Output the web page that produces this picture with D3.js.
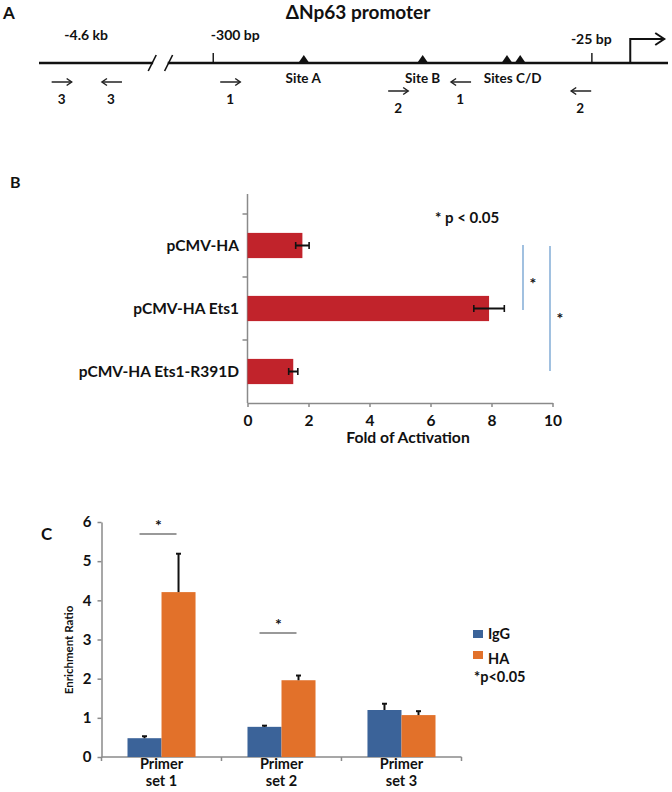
<!DOCTYPE html>
<html>
<head>
<meta charset="utf-8">
<script src="https://cdn.jsdelivr.net/npm/d3@7"></script>
<style>
  html, body { margin: 0; padding: 0; background: #fff; }
  svg { display: block; font-family: Lato, "Open Sans", sans-serif; }
  text { font-weight: bold; fill: #111; }
</style>
</head>
<body>
<svg id="chart" width="672" height="792"></svg>
<script>
// ---------------- Panel A data (promoter diagram, arbitrary track units 0-100) ----------------
const promoterTitle = "\u0394Np63 promoter";
const trackBreak = [18.0, 20.6];
const positionTicks = [
  { label: "-300 bp", pos: 27.7, labelPos: 31.2 },
  { label: "-25 bp", pos: 87.9, labelPos: 87.8 }
];
const positionLabelsNoTick = [{ label: "-4.6 kb", pos: 7.5 }];
const sites = [
  { name: "A", pos: 42.1 },
  { name: "B", pos: 61.0 },
  { name: "C", pos: 74.4 },
  { name: "D", pos: 76.5 }
];
const siteLabels = [
  { label: "Site A", pos: 42.0 },
  { label: "Site B", pos: 61.0 },
  { label: "Sites C/D", pos: 75.3 }
];
const tssPos = 94.0;
const tssEnd = 99.4;
// primer arrows: set, direction, position, row
const primers = [
  { set: "3", dir: 1, pos: 3.6, row: 0 },
  { set: "3", dir: -1, pos: 11.6, row: 0 },
  { set: "1", dir: 1, pos: 30.4, row: 0 },
  { set: "1", dir: -1, pos: 67.1, row: 0 },
  { set: "2", dir: 1, pos: 57.1, row: 1 },
  { set: "2", dir: -1, pos: 86.2, row: 1 }
];

// ---------------- Panel B data ----------------
const bCategories = ["pCMV-HA", "pCMV-HA Ets1", "pCMV-HA Ets1-R391D"];
const bValues = [1.8, 7.92, 1.5];
const bErrors = [0.22, 0.5, 0.15];
const bTicks = [0, 2, 4, 6, 8, 10];
const bAxisTitle = "Fold of Activation";
const bNote = "* p < 0.05";

// ---------------- Panel C data ----------------
const cCategories = ["Primer set 1", "Primer set 2", "Primer set 3"];
const cSeries = ["IgG", "HA"];
const cIgG = [0.48, 0.77, 1.2];
const cIgGErr = [0.05, 0.03, 0.16];
const cHA = [4.21, 1.96, 1.07];
const cHAErr = [0.98, 0.12, 0.1];
const cTicks = [0, 1, 2, 3, 4, 5, 6];
const cAxisTitle = "Enrichment Ratio";
const cNote = "*p<0.05";

const svg = d3.select("#chart");

// ======================= PANEL A =======================
(function () {
  const g = svg.append("g");
  const x = d3.scaleLinear().domain([0, 100]).range([39, 668]);
  const lineY = 63;
  g.append("text").attr("x", 3).attr("y", 19).attr("font-size", 17).text("A");
  g.append("text").attr("x", 358).attr("y", 19).attr("text-anchor", "middle")
    .attr("font-size", 19).text(promoterTitle);

  const seg = (x1, x2) => g.append("line").attr("x1", x(x1)).attr("x2", x(x2))
    .attr("y1", lineY).attr("y2", lineY).attr("stroke", "#111").attr("stroke-width", 2.4);
  seg(0, trackBreak[0] + 0.2);
  seg(trackBreak[1] - 0.2, 100);
  g.append("rect").attr("x", x(trackBreak[0]) + 1).attr("y", lineY - 2)
    .attr("width", x(trackBreak[1]) - x(trackBreak[0]) - 2).attr("height", 4).attr("fill", "#fff");
  trackBreak.forEach(p => {
    g.append("line").attr("x1", x(p) - 4).attr("y1", lineY + 8)
      .attr("x2", x(p) + 4).attr("y2", lineY - 8)
      .attr("stroke", "#111").attr("stroke-width", 1.6);
  });

  positionTicks.forEach(t => {
    g.append("line").attr("x1", x(t.pos)).attr("x2", x(t.pos))
      .attr("y1", lineY - 10).attr("y2", lineY).attr("stroke", "#111").attr("stroke-width", 1.4);
    g.append("text").attr("x", x(t.labelPos)).attr("y", t.label === "-25 bp" ? 44 : 40)
      .attr("text-anchor", "middle").attr("font-size", 14).text(t.label);
  });
  positionLabelsNoTick.forEach(t => {
    g.append("text").attr("x", x(t.pos)).attr("y", 40)
      .attr("text-anchor", "middle").attr("font-size", 14).text(t.label);
  });

  sites.forEach(s => {
    const cx = x(s.pos);
    g.append("path").attr("d", `M${cx - 5.5},${lineY} L${cx},${lineY - 8} L${cx + 5.5},${lineY} Z`)
      .attr("fill", "#111");
  });
  siteLabels.forEach(s => {
    g.append("text").attr("x", x(s.pos)).attr("y", 83).attr("text-anchor", "middle")
      .attr("font-size", 13.5).text(s.label);
  });

  g.append("path")
    .attr("d", `M${x(tssPos)},${lineY} V${lineY - 24} H${x(tssEnd)}`)
    .attr("fill", "none").attr("stroke", "#111").attr("stroke-width", 2);
  g.append("path")
    .attr("d", `M${x(tssEnd) - 9},${lineY - 30} L${x(tssEnd)},${lineY - 24} L${x(tssEnd) - 9},${lineY - 18}`)
    .attr("fill", "none").attr("stroke", "#111").attr("stroke-width", 2);

  const rowY = [82, 91];
  const numY = [104, 113];
  primers.forEach(p => {
    const cx = x(p.pos);
    const y = rowY[p.row];
    const x1 = cx - 10 * p.dir, x2 = cx + 10 * p.dir;
    g.append("line").attr("x1", x1).attr("x2", x2).attr("y1", y).attr("y2", y)
      .attr("stroke", "#222").attr("stroke-width", 1.5);
    g.append("path")
      .attr("d", `M${x2 - 5 * p.dir},${y - 3.5} L${x2},${y} L${x2 - 5 * p.dir},${y + 3.5}`)
      .attr("fill", "none").attr("stroke", "#222").attr("stroke-width", 1.5);
    g.append("text").attr("x", cx + (p.dir > 0 ? 0 : -1)).attr("y", numY[p.row])
      .attr("text-anchor", "middle").attr("font-size", 13.5).text(p.set);
  });
})();

// ======================= PANEL B =======================
(function () {
  const g = svg.append("g");
  const red = "#c1232b";
  g.append("text").attr("x", 10).attr("y", 188).attr("font-size", 16).text("B");

  const x = d3.scaleLinear().domain([0, 10]).range([247.5, 552.5]);
  const y = d3.scaleBand().domain(bCategories).range([214, 403])
    .paddingInner(0.6).paddingOuter(0.3);

  g.append("line").attr("x1", x(0)).attr("x2", x(0)).attr("y1", 194).attr("y2", 403)
    .attr("stroke", "#8a8a8a").attr("stroke-width", 1.5);
  const bounds = [214].concat(bCategories.map(c => y(c) + y.bandwidth() + y.step() * 0.3));
  bounds.slice(0, 3).forEach(b => {
    g.append("line").attr("x1", x(0) - 5).attr("x2", x(0)).attr("y1", b).attr("y2", b)
      .attr("stroke", "#8a8a8a").attr("stroke-width", 1.5);
  });

  const xAxis = g.append("g").attr("transform", "translate(0,403)")
    .call(d3.axisBottom(x).tickValues(bTicks).tickSize(4).tickSizeOuter(0).tickFormat(d3.format("d")));
  xAxis.select(".domain").attr("stroke", "#8a8a8a").attr("stroke-width", 1.5);
  xAxis.selectAll(".tick line").attr("stroke", "#8a8a8a").attr("stroke-width", 1.5);
  xAxis.selectAll(".tick text").attr("font-size", 15.5).attr("font-weight", "bold")
    .attr("fill", "#111").attr("y", 12).attr("dy", "0.71em").attr("font-family", "Lato, sans-serif");

  g.append("text").attr("x", 408).attr("y", 443).attr("text-anchor", "middle")
    .attr("font-size", 15.7).text(bAxisTitle);

  bCategories.forEach(c => {
    g.append("text").attr("x", 239).attr("y", y(c) + y.bandwidth() / 2 + 5.5)
      .attr("text-anchor", "end").attr("font-size", 15.5).text(c);
  });

  g.selectAll("rect.bar").data(bCategories).join("rect").attr("class", "bar")
    .attr("x", x(0)).attr("y", c => y(c))
    .attr("width", (c, i) => x(bValues[i]) - x(0)).attr("height", y.bandwidth())
    .attr("fill", red);

  bCategories.forEach((c, i) => {
    const cy = y(c) + y.bandwidth() / 2;
    const lo = x(bValues[i] - bErrors[i]), hi = x(bValues[i] + bErrors[i]);
    g.append("line").attr("x1", lo).attr("x2", hi).attr("y1", cy).attr("y2", cy)
      .attr("stroke", "#111").attr("stroke-width", 2);
    [lo, hi].forEach(v => g.append("line").attr("x1", v).attr("x2", v)
      .attr("y1", cy - 3.5).attr("y2", cy + 3.5).attr("stroke", "#111").attr("stroke-width", 1.6));
  });

  g.append("text").attr("x", 435).attr("y", 223).attr("font-size", 15).text(bNote);

  const blue = "#6f9fd0";
  g.append("line").attr("x1", 523).attr("x2", 523).attr("y1", 245).attr("y2", 310)
    .attr("stroke", blue).attr("stroke-width", 1.3);
  g.append("line").attr("x1", 550).attr("x2", 550).attr("y1", 246).attr("y2", 371)
    .attr("stroke", blue).attr("stroke-width", 1.3);
  g.append("text").attr("x", 533).attr("y", 289).attr("text-anchor", "middle")
    .attr("font-size", 16).text("*");
  g.append("text").attr("x", 560).attr("y", 324).attr("text-anchor", "middle")
    .attr("font-size", 16).text("*");
})();

// ======================= PANEL C =======================
(function () {
  const g = svg.append("g");
  const blue = "#3b6399", orange = "#e2712a";
  g.append("text").attr("x", 41).attr("y", 540).attr("font-size", 17).text("C");

  const y = d3.scaleLinear().domain([0, 6]).range([757, 522]);
  const x = d3.scaleBand().domain(cCategories).range([101.5, 461.5])
    .paddingInner(0.433).paddingOuter(0.2167);
  const xs = d3.scaleBand().domain(cSeries).range([0, x.bandwidth()]);
  const color = d3.scaleOrdinal().domain(cSeries).range([blue, orange]);
  const vals = { IgG: cIgG, HA: cHA };
  const errs = { IgG: cIgGErr, HA: cHAErr };

  const yAxis = g.append("g").attr("transform", "translate(101.5,0)")
    .call(d3.axisLeft(y).tickValues(cTicks).tickSize(4).tickSizeOuter(0).tickFormat(d3.format("d")));
  yAxis.select(".domain").attr("stroke", "#8a8a8a").attr("stroke-width", 1.5);
  yAxis.selectAll(".tick line").attr("stroke", "#8a8a8a").attr("stroke-width", 1.5);
  yAxis.selectAll(".tick text").attr("font-size", 15).attr("font-weight", "bold")
    .attr("fill", "#111").attr("x", -10).attr("font-family", "Lato, sans-serif");

  g.append("text").attr("transform", "translate(72.5,650) rotate(-90)")
    .attr("text-anchor", "middle").attr("font-size", 11.5).attr("font-weight", "normal")
    .text(cAxisTitle);

  g.append("line").attr("x1", 101.5).attr("x2", 461.5).attr("y1", 757).attr("y2", 757)
    .attr("stroke", "#8a8a8a").attr("stroke-width", 1.5);
  const bnd = cCategories.map(c => x(c) - x.step() * 0.2167).concat([461.5]);
  bnd.forEach(b => g.append("line").attr("x1", b).attr("x2", b).attr("y1", 757).attr("y2", 761)
    .attr("stroke", "#8a8a8a").attr("stroke-width", 1.5));

  cCategories.forEach(c => {
    const cx = x(c) + x.bandwidth() / 2;
    const parts = c.split(" ");
    g.append("text").attr("x", cx).attr("y", 769).attr("text-anchor", "middle")
      .attr("font-size", 14.5).text(parts[0]);
    g.append("text").attr("x", cx).attr("y", 786).attr("text-anchor", "middle")
      .attr("font-size", 14.5).text(parts.slice(1).join(" "));
  });

  cSeries.forEach(s => {
    cCategories.forEach((c, i) => {
      const bx = x(c) + xs(s);
      g.append("rect").attr("x", bx).attr("y", y(vals[s][i]))
        .attr("width", xs.bandwidth()).attr("height", y(0) - y(vals[s][i]))
        .attr("fill", color(s));
      const cx = bx + xs.bandwidth() / 2;
      const top = y(vals[s][i] + errs[s][i]);
      g.append("line").attr("x1", cx).attr("x2", cx).attr("y1", y(vals[s][i])).attr("y2", top)
        .attr("stroke", "#111").attr("stroke-width", 2);
      g.append("line").attr("x1", cx - 2.5).attr("x2", cx + 2.5).attr("y1", top).attr("y2", top)
        .attr("stroke", "#111").attr("stroke-width", 2);
    });
  });

  const sig = [cCategories[0], cCategories[1]];
  sig.forEach(c => {
    const cx = x(c) + x.bandwidth() / 2;
    const i = cCategories.indexOf(c);
    const ly = i === 0 ? 534 : 633;
    g.append("line").attr("x1", cx - 22).attr("x2", cx + 15).attr("y1", ly).attr("y2", ly)
      .attr("stroke", "#777").attr("stroke-width", 1.3);
    g.append("text").attr("x", cx - 3).attr("y", ly - 3).attr("text-anchor", "middle")
      .attr("font-size", 16).text("*");
  });

  const leg = g.append("g");
  cSeries.forEach((s, i) => {
    leg.append("rect").attr("x", 473).attr("y", i === 0 ? 630 : 651)
      .attr("width", 10).attr("height", 8).attr("fill", color(s));
    leg.append("text").attr("x", 488).attr("y", i === 0 ? 639 : 664)
      .attr("font-size", 14.5).text(s);
  });
  leg.append("text").attr("x", 474).attr("y", 682).attr("font-size", 14.5).text(cNote);
})();
</script>
</body>
</html>
